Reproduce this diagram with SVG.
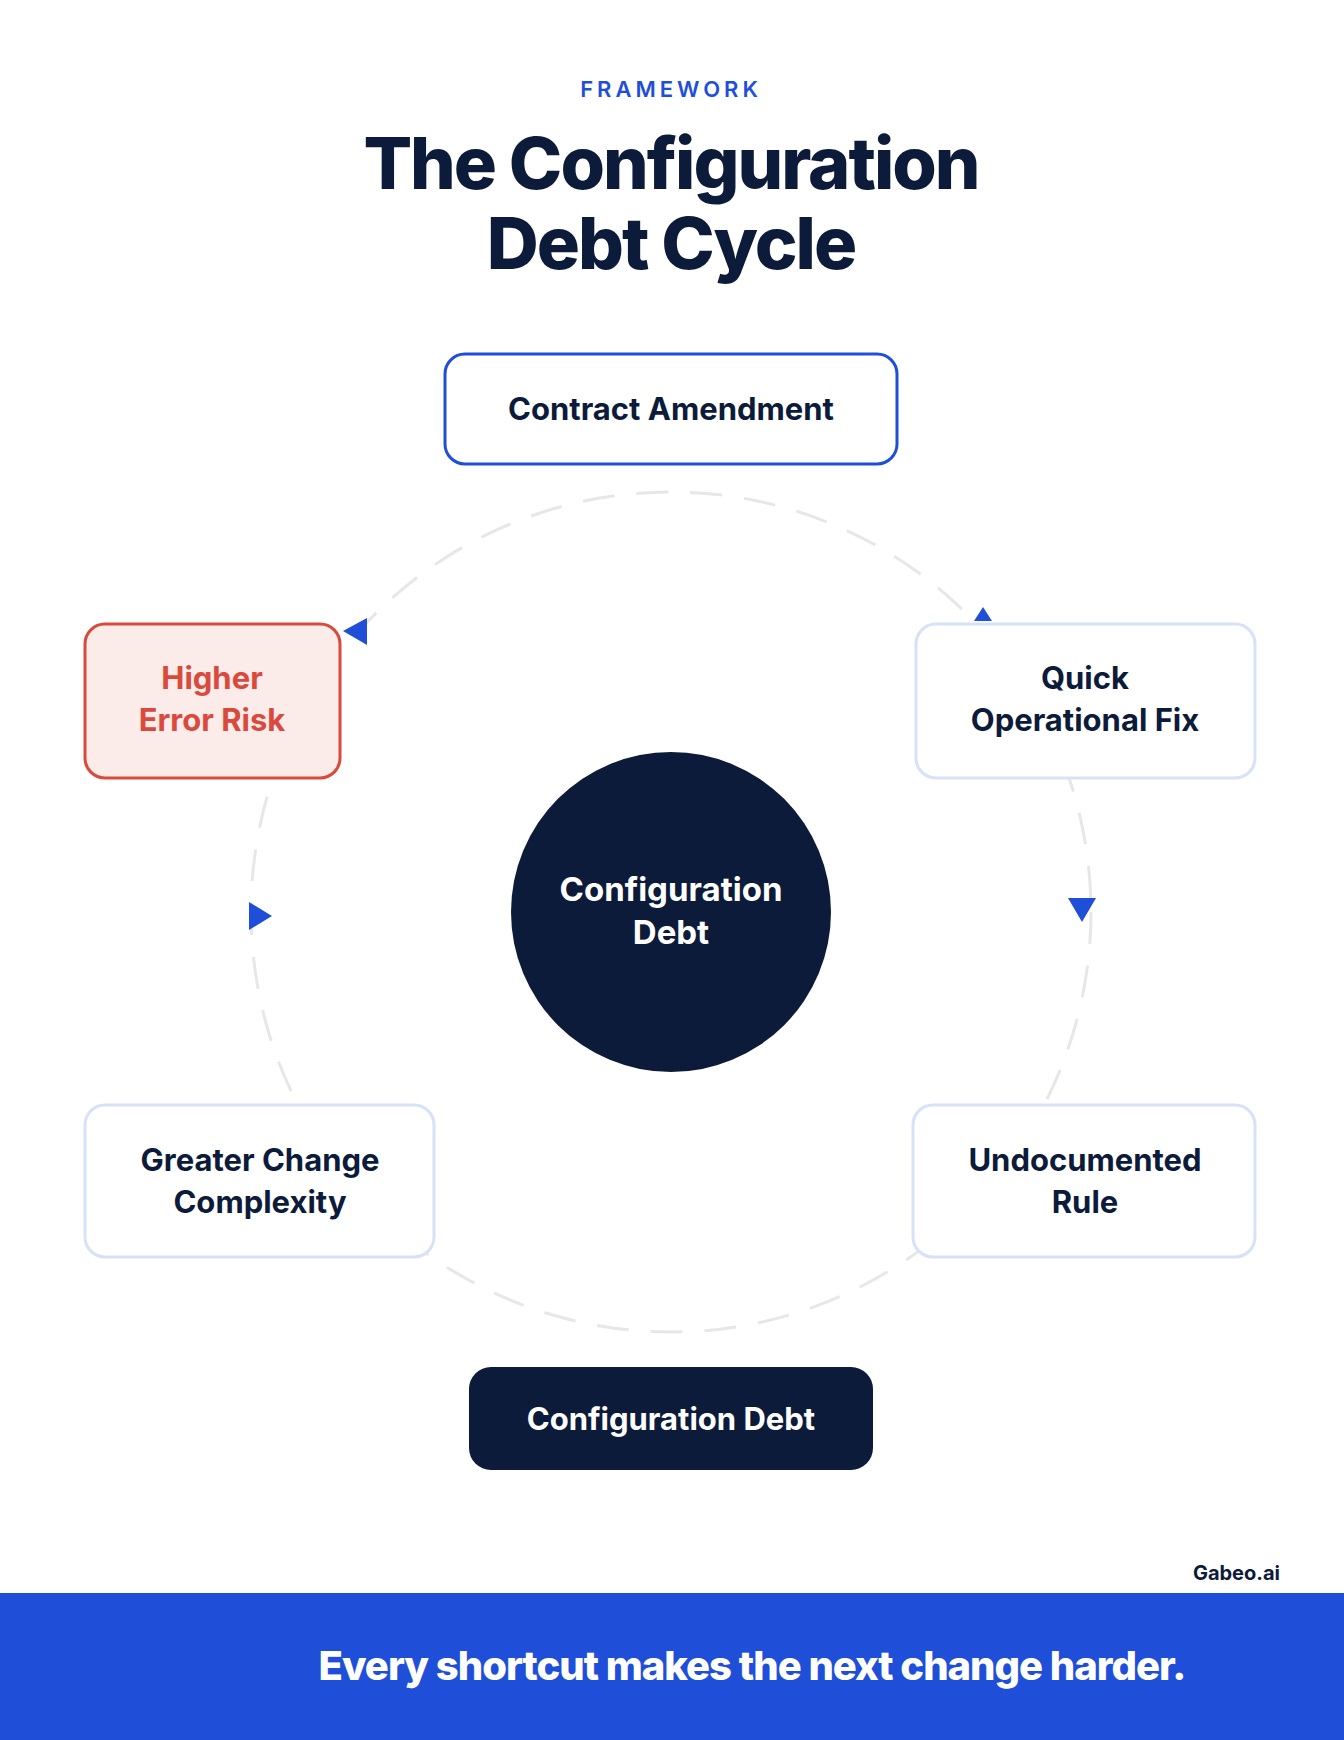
<svg xmlns="http://www.w3.org/2000/svg" width="1344" height="1740" viewBox="0 0 1344 1740">
<style>
text{font-family:Inter,"Liberation Sans",sans-serif;text-anchor:middle}
.lbl{font-size:31px;font-weight:700;fill:#0d1b3a}
.box{fill:#fff;stroke:#d7e1f7;stroke-width:3}
.arr{fill:#1f4fd8}
</style>
<rect width="1344" height="1740" fill="#fff"/>
<text x="671" y="97" style="font-size:22px;font-weight:600;letter-spacing:4px;fill:#1f4fd8">FRAMEWORK</text>
<text x="671" y="189" style="font-size:72px;font-weight:800;fill:#0d1b3a;letter-spacing:-2px">The Configuration</text>
<text x="671" y="269" style="font-size:72px;font-weight:800;fill:#0d1b3a;letter-spacing:-2px">Debt Cycle</text>
<g id="connectors">
<circle cx="671" cy="912" r="420" fill="none" stroke="#e5e7eb" stroke-width="3" stroke-dasharray="32 22"/>
<polygon class="arr" points="343,631 367,618 367,645"/>
<polygon class="arr" points="983,607 974,621 992,621"/>
<polygon class="arr" points="1068,898 1096,898 1082,922"/>
<polygon class="arr" points="249,902 249,930 272,916"/>
</g>
<g id="contract"><rect x="445" y="354" width="452" height="110" rx="20" fill="#fff" stroke="#1f4fd8" stroke-width="3"/><text class="lbl" x="671" y="420">Contract Amendment</text></g>
<g id="risk"><rect x="85" y="624" width="255" height="154" rx="20" fill="#fbecea" stroke="#d94a3d" stroke-width="3"/><text class="lbl" x="212" y="689" style="fill:#d94a3d">Higher</text><text class="lbl" x="212" y="731" style="fill:#d94a3d">Error Risk</text></g>
<g id="quick"><rect class="box" x="916" y="624" width="339" height="154" rx="20"/><text class="lbl" x="1085" y="689">Quick</text><text class="lbl" x="1085" y="731">Operational Fix</text></g>
<g id="greater"><rect class="box" x="85" y="1105" width="349" height="152" rx="20"/><text class="lbl" x="260" y="1171">Greater Change</text><text class="lbl" x="260" y="1213">Complexity</text></g>
<g id="undoc"><rect class="box" x="913" y="1105" width="342" height="152" rx="20"/><text class="lbl" x="1085" y="1171">Undocumented</text><text class="lbl" x="1085" y="1213">Rule</text></g>
<g id="center"><circle cx="671" cy="912" r="160" fill="#0d1b3a"/><text class="lbl" x="671" y="901" style="fill:#fff;font-size:33px">Configuration</text><text class="lbl" x="671" y="944" style="fill:#fff;font-size:33px">Debt</text></g>
<g id="pill"><rect x="469" y="1367" width="404" height="103" rx="22" fill="#0d1b3a"/><text class="lbl" x="671" y="1430" style="fill:#fff">Configuration Debt</text></g>
<text x="1280" y="1580" style="font-size:20px;font-weight:700;fill:#0d1b3a;text-anchor:end">Gabeo.ai</text>
<rect x="0" y="1593" width="1344" height="147" fill="#1f4fd8"/>
<text x="752" y="1680" style="font-size:40px;font-weight:800;fill:#fff;letter-spacing:-1px">Every shortcut makes the next change harder.</text>
</svg>
